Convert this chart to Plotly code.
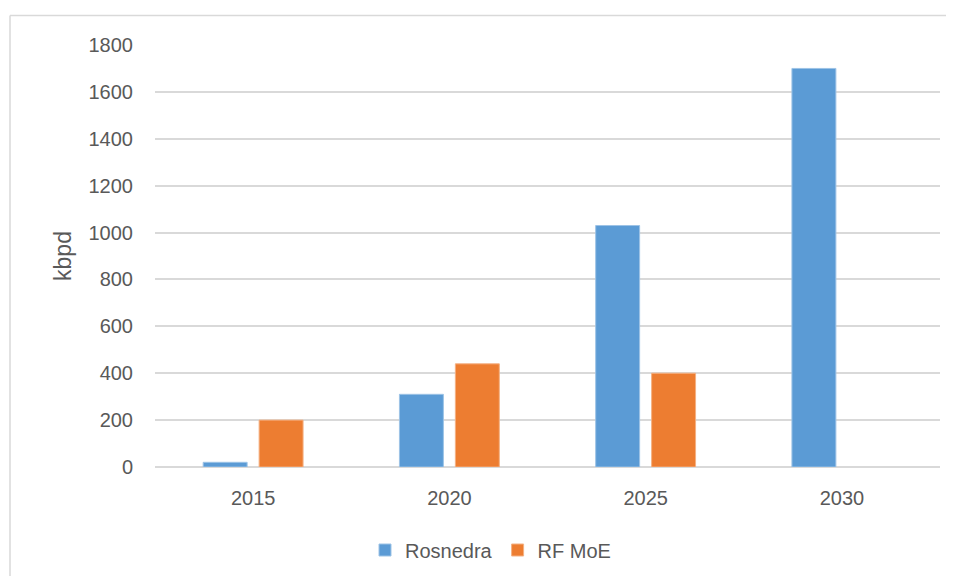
import plotly.graph_objects as go

years = ["2015", "2020", "2025", "2030"]
rosnedra = [20, 310, 1030, 1700]
rf_moe = [200, 440, 400, None]
tick_vals = [0, 200, 400, 600, 800, 1000, 1200, 1400, 1600, 1800]

FONT = "Liberation Sans"
GREY = "#595959"
FS = 20

fig = go.Figure()
fig.add_trace(go.Bar(x=years, y=rosnedra, name="Rosnedra",
                     marker=dict(color="#5B9BD5", line=dict(color="#9DC3E6", width=1))))
fig.add_trace(go.Bar(x=years, y=rf_moe, name="RF MoE",
                     marker=dict(color="#ED7D31", line=dict(color="#F4B183", width=1))))

# page body has an 8px margin on every side; keep the figure inside the window
OFF = 8
W, H = 957 - 2 * OFF, 584 - 2 * OFF
L, T = 155 - OFF, 44.5 - OFF
R = W - (940 - OFF)
B = H - (467 - OFF)
pw, ph = W - L - R, H - T - B

def px(x):
    return (x - OFF - L) / pw

def py(y):
    return (H - B - (y - OFF)) / ph

border = dict(color="#D9D9D9", width=1.5)

fig.update_layout(
    width=W, height=H,
    margin=dict(l=L, r=R, t=T, b=B, pad=0, autoexpand=False),
    paper_bgcolor="white", plot_bgcolor="white",
    barmode="group", bargap=0.43, bargroupgap=0.214,
    font=dict(family=FONT, size=FS, color=GREY),
    showlegend=True,
    legend=dict(orientation="h", xref="container", yref="container",
                x=(365 - OFF) / W, xanchor="left",
                y=1 - (550 - OFF) / H, yanchor="middle",
                font=dict(family=FONT, size=FS, color=GREY),
                itemclick=False),
    xaxis=dict(showgrid=False, showline=False, ticks="", ticklabelstandoff=17,
               automargin=False,
               tickfont=dict(family=FONT, size=FS, color=GREY)),
    yaxis=dict(range=[0, 1800], tickvals=tick_vals, showgrid=True,
               gridcolor="#D9D9D9", gridwidth=1.5, zeroline=True,
               zerolinecolor="#D9D9D9", zerolinewidth=1.5, showline=False,
               ticks="", ticklabelstandoff=21, automargin=False,
               tickfont=dict(family=FONT, size=FS, color=GREY),
               title=dict(text="kbpd", standoff=10,
                          font=dict(family=FONT, size=23, color=GREY))),
    shapes=[
        dict(type="line", xref="paper", yref="paper",
             x0=px(10), x1=px(946), y0=py(15), y1=py(15), line=border, layer="below"),
        dict(type="line", xref="paper", yref="paper",
             x0=px(10), x1=px(10), y0=py(15), y1=py(590), line=border, layer="below"),
    ],
)

fig.write_html("out.html")
